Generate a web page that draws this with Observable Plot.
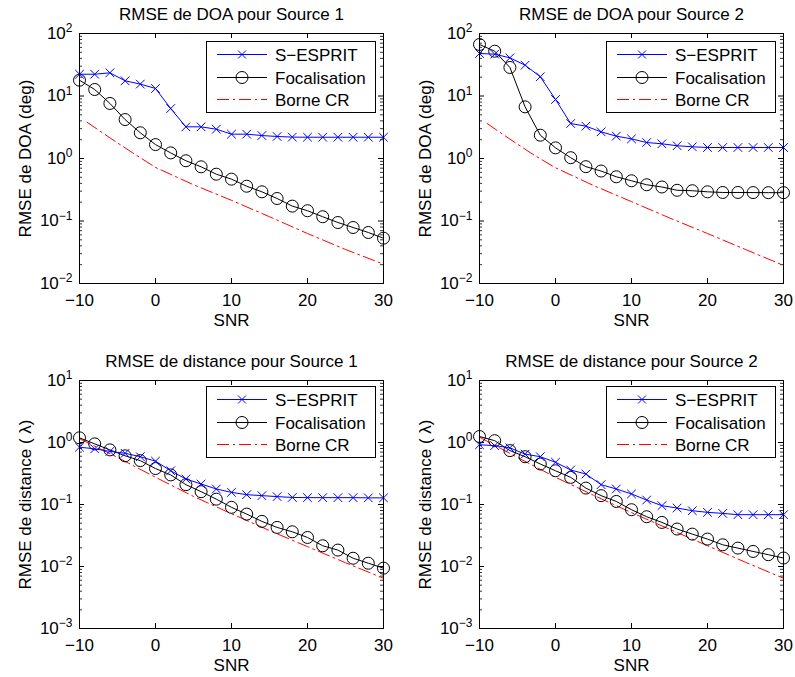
<!DOCTYPE html>
<html><head><meta charset="utf-8">
<script src="https://cdn.jsdelivr.net/npm/d3@7"></script>
<script src="https://cdn.jsdelivr.net/npm/@observablehq/plot@0.6"></script>
<style>
body{margin:0;background:#fff;}
#wrap{position:relative;width:795px;height:677px;overflow:hidden;background:#fff;}
#wrap svg{position:absolute;overflow:visible;}
</style></head><body><div id="wrap"></div>
<script>
// ---------- data ----------
const snr = [-10,-8,-6,-4,-2,0,2,4,6,8,10,12,14,16,18,20,22,24,26,28,30];
const seriesNames = ["S\u2212ESPRIT","Focalisation","Borne CR"];
const xTickValues = [-10,0,10,20,30];
const titles = ["RMSE de DOA pour Source 1","RMSE de DOA pour Source 2","RMSE de distance pour Source 1","RMSE de distance pour Source 2"];
const yLabels = ["RMSE de DOA (deg)","RMSE de DOA (deg)","RMSE de distance ( \u03bb)","RMSE de distance ( \u03bb)"];
const xLabel = "SNR";

const doaEsprit1 = [22.3,22.3,23.5,17.5,15.5,13.2,6.3,3.21,3.21,2.94,2.45,2.45,2.33,2.25,2.2,2.19,2.19,2.19,2.19,2.19,2.19];
const doaFocal1  = [17.9,12.7,7.6,4.2,2.58,1.67,1.23,0.92,0.736,0.561,0.467,0.36,0.293,0.229,0.173,0.146,0.117,0.0946,0.0787,0.0655,0.0531];
const doaCrbSnr  = [-9,-6,-3,0,5,10,15,20,25,30];
const doaCrb1    = [3.8,2.14,1.23,0.72,0.38,0.214,0.117,0.063,0.035,0.0204];

const doaEsprit2 = [47.9,46.7,40.8,31.1,20.3,8.8,3.63,3.29,2.67,2.28,2.06,1.8,1.72,1.6,1.54,1.5,1.5,1.5,1.5,1.5,1.5];
const doaFocal2  = [66.7,52.1,28.6,6.7,2.36,1.48,1.03,0.74,0.63,0.51,0.44,0.38,0.35,0.31,0.305,0.293,0.286,0.286,0.285,0.284,0.284];
const doaCrb2    = [3.63,2.04,1.17,0.71,0.37,0.204,0.112,0.063,0.035,0.0195];

const distEsprit1 = [0.84,0.79,0.72,0.67,0.59,0.5,0.35,0.258,0.214,0.178,0.157,0.144,0.139,0.134,0.13,0.129,0.129,0.129,0.129,0.128,0.128];
const distFocal1  = [1.19,0.95,0.76,0.61,0.51,0.38,0.3,0.209,0.161,0.122,0.09,0.07,0.0534,0.0427,0.0363,0.0294,0.0216,0.0184,0.0136,0.0113,0.0094];
const distCrbSnr  = [-10,-5,0,5,10,15,20,25,30];
const distCrb1    = [1.15,0.575,0.275,0.135,0.071,0.038,0.0209,0.0115,0.00646];

const distEsprit2 = [0.92,0.89,0.82,0.65,0.59,0.48,0.36,0.31,0.209,0.178,0.148,0.118,0.0957,0.0877,0.0794,0.0747,0.0719,0.0685,0.0685,0.0685,0.0685];
const distFocal2  = [1.25,1.07,0.74,0.59,0.45,0.35,0.274,0.184,0.139,0.112,0.0824,0.0635,0.0514,0.0402,0.0333,0.0277,0.0224,0.0198,0.0175,0.0155,0.0137];
const distCrb2    = [1.22,0.575,0.275,0.141,0.074,0.04,0.0216,0.0117,0.00646];

const doaDecades  = [-2, 2];
const distDecades = [-3, 1];

// ---------- layout ----------
const panels = [
  {title: titles[0], ylabel: yLabels[0], esprit: doaEsprit1, focal: doaFocal1, crbX: doaCrbSnr, crb: doaCrb1, dec: doaDecades,
   left: 0, top: 0, width: 397, height: 340, mt: 33, mb: 57, ml: 79, mr: 14},
  {title: titles[1], ylabel: yLabels[1], esprit: doaEsprit2, focal: doaFocal2, crbX: doaCrbSnr, crb: doaCrb2, dec: doaDecades,
   left: 400, top: 0, width: 395, height: 340, mt: 33, mb: 57, ml: 79, mr: 12},
  {title: titles[2], ylabel: yLabels[2], esprit: distEsprit1, focal: distFocal1, crbX: distCrbSnr, crb: distCrb1, dec: distDecades,
   left: 0, top: 340, width: 397, height: 337, mt: 40, mb: 49, ml: 79, mr: 14},
  {title: titles[3], ylabel: yLabels[3], esprit: distEsprit2, focal: distFocal2, crbX: distCrbSnr, crb: distCrb2, dec: distDecades,
   left: 400, top: 340, width: 395, height: 337, mt: 40, mb: 49, ml: 79, mr: 12}
];

const FONT = "'Liberation Sans', Arial, Helvetica, sans-serif";
const BLUE = "#0000ff", RED = "#ff0000", BLACK = "#000000";
const DASH = "12,4,2,4";

function rows(xs, ys) { return xs.map((x, i) => ({snr: x, v: ys[i]})); }

function makePanel(p) {
  const fw = p.width - p.ml - p.mr;
  const fh = p.height - p.mt - p.mb;
  const major = d3.range(p.dec[0], p.dec[1] + 1).map(k => Math.pow(10, k));
  const minor = [];
  for (let k = p.dec[0]; k < p.dec[1]; k++) for (let m = 2; m <= 9; m++) minor.push(m * Math.pow(10, k));
  const yMid = Math.pow(10, (p.dec[0] + p.dec[1]) / 2);

  const chart = Plot.plot({
    width: p.width, height: p.height,
    marginTop: p.mt, marginBottom: p.mb, marginLeft: p.ml, marginRight: p.mr,
    style: {fontFamily: FONT, fontSize: "17px", color: "#000", background: "transparent", overflow: "visible"},
    x: {domain: [-10, 30], axis: null},
    y: {type: "log", domain: [major[0], major[major.length - 1]], axis: null},
    marks: [
      // ticks (inward, on all four sides)
      Plot.ruleX(xTickValues, {x: d => d, insetTop: fh - 5, stroke: BLACK, strokeWidth: 1}),
      Plot.ruleX(xTickValues, {x: d => d, insetBottom: fh - 5, stroke: BLACK, strokeWidth: 1}),
      Plot.ruleY(major, {y: d => d, insetRight: fw - 5, stroke: BLACK, strokeWidth: 1}),
      Plot.ruleY(major, {y: d => d, insetLeft: fw - 5, stroke: BLACK, strokeWidth: 1}),
      Plot.ruleY(minor, {y: d => d, insetRight: fw - 3, stroke: BLACK, strokeWidth: 0.8}),
      Plot.ruleY(minor, {y: d => d, insetLeft: fw - 3, stroke: BLACK, strokeWidth: 0.8}),
      // axes labels
      Plot.axisX(xTickValues, {anchor: "bottom", tickSize: 0, tickPadding: 10, label: null,
        tickFormat: d => (d < 0 ? "\u2212" + Math.abs(d) : String(d))}),
      Plot.axisY(major, {anchor: "left", tickSize: 0, tickPadding: 7, label: null,
        tickFormat: d => "10^" + Math.round(Math.log10(d))}),
      Plot.text([xLabel], {text: d => d, frameAnchor: "bottom", dy: 37, lineAnchor: "middle"}),
      Plot.text([p.title], {text: d => d, frameAnchor: "top", dy: -19, lineAnchor: "middle"}),
      Plot.text([p.ylabel], {text: d => d, x: () => -10, y: () => yMid, dx: -54, rotate: -90,
        textAnchor: "middle", lineAnchor: "middle"}),
      // series
      Plot.line(rows(p.crbX, p.crb), {x: "snr", y: "v", stroke: RED, strokeWidth: 1, strokeDasharray: DASH}),
      Plot.line(rows(snr, p.focal), {x: "snr", y: "v", stroke: BLACK, strokeWidth: 1}),
      Plot.dot(rows(snr, p.focal), {x: "snr", y: "v", r: 6, stroke: BLACK, fill: "none", strokeWidth: 1}),
      Plot.line(rows(snr, p.esprit), {x: "snr", y: "v", stroke: BLUE, strokeWidth: 1}),
      Plot.dot(rows(snr, p.esprit), {x: "snr", y: "v", symbol: "times", r: 4, stroke: BLUE, strokeWidth: 1}),
      Plot.frame({stroke: BLACK, strokeWidth: 1})
    ]
  });

  // superscript exponents on the log tick labels
  d3.select(chart).selectAll('g[aria-label="y-axis tick label"] text').each(function () {
    const t = this.textContent;
    const exp = t.split("^")[1];
    const sel = d3.select(this);
    sel.text("10");
    sel.append("tspan").attr("dy", "-0.55em").attr("font-size", "12px").text(exp.replace("-", "\u2212"));
  });

  // legend
  const svg = d3.select(chart);
  const bw = 169, bh = 71;
  const bx = p.width - p.mr - 8 - bw;
  const by = p.mt + (p.top === 0 ? 8 : 6);
  const g = svg.append("g").attr("transform", `translate(${bx},${by})`)
    .attr("font-family", FONT).attr("font-size", 17).attr("text-anchor", "start");
  g.append("rect").attr("x", 0.5).attr("y", 0.5).attr("width", bw).attr("height", bh)
    .attr("fill", "white").attr("stroke", BLACK).attr("stroke-width", 1);
  const rowY = [13, 36, 58];
  const colors = [BLUE, BLACK, RED];
  seriesNames.forEach((name, i) => {
    const y = rowY[i] + 0.5;
    const ln = g.append("line").attr("x1", 11).attr("x2", 61).attr("y1", y).attr("y2", y)
      .attr("stroke", colors[i]).attr("stroke-width", 1);
    if (i === 2) ln.attr("stroke-dasharray", DASH);
    if (i === 0) {
      g.append("path").attr("d", "M-4,-4L4,4M-4,4L4,-4").attr("transform", `translate(36,${y})`)
        .attr("stroke", BLUE).attr("stroke-width", 1).attr("fill", "none");
    }
    if (i === 1) {
      g.append("circle").attr("cx", 36).attr("cy", y).attr("r", 6).attr("fill", "none")
        .attr("stroke", BLACK).attr("stroke-width", 1);
    }
    g.append("text").attr("x", 69).attr("y", y).attr("dy", "0.36em").attr("text-anchor", "start")
      .attr("fill", "#000").text(name);
  });

  chart.style.left = p.left + "px";
  chart.style.top = p.top + "px";
  return chart;
}

const wrap = document.getElementById("wrap");
panels.forEach(p => wrap.appendChild(makePanel(p)));
</script>
</body></html>
